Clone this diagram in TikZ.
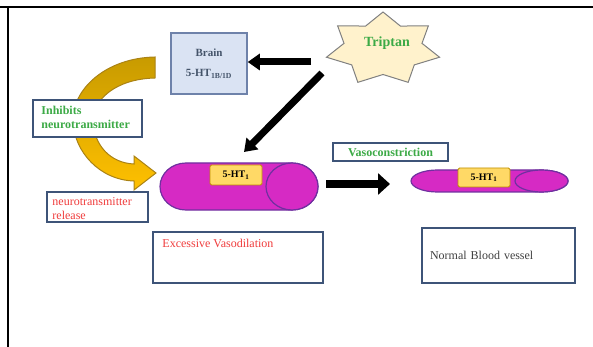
\documentclass[tikz,border=0pt]{standalone}
\usepackage{fontspec}
\setmainfont{Liberation Serif}
\usepackage{tikz}
\usetikzlibrary{positioning,arrows.meta,calc}

\definecolor{boxrim}{RGB}{62,84,120}
\definecolor{brainfill}{RGB}{218,227,243}
\definecolor{brainrim}{RGB}{110,130,170}
\definecolor{braintext}{RGB}{68,84,106}
\definecolor{textgreen}{RGB}{60,170,70}
\definecolor{textred}{RGB}{240,60,60}
\definecolor{starfill}{RGB}{255,242,204}
\definecolor{vesselpink}{RGB}{214,42,196}
\definecolor{vesselrim}{RGB}{112,48,160}
\definecolor{tagyellow}{RGB}{255,217,102}
\definecolor{tagrim}{RGB}{191,144,0}
\definecolor{golddark}{RGB}{200,155,0}
\definecolor{goldlight}{RGB}{255,192,0}
\definecolor{goldrim}{RGB}{170,130,20}

\tikzset{
    box/.style={rectangle, draw=boxrim, line width=1.5pt, fill=white, inner sep=0pt},
    tag/.style={rectangle, draw=tagrim, fill=tagyellow, rounded corners=1.5pt, line width=0.8pt,
        minimum width=52pt, font=\bfseries\fontsize{10}{12}\selectfont},
    vessel/.style={fill=vesselpink, draw=vesselrim, line width=1.2pt},
    line/.style={line width=7pt, -{Triangle[length=12pt,width=16pt]}},
    wideline/.style={line width=8pt, -{Triangle[length=12pt,width=21pt]}},
    label/.style={font=\fontsize{12}{14}\selectfont, align=left, inner sep=0pt},
}

\begin{document}
\begin{tikzpicture}[x=1pt,y=-1pt]
    \useasboundingbox (0,0) rectangle (593,347);

    % page frame
    \draw[line width=2.5pt] (0,7) -- (593,7);
    \draw[line width=2.5pt] (8,7) -- (8,347);

    % curved feedback arrow
    \shade[top color=golddark, bottom color=goldlight, draw=goldrim, line width=1pt]
        (155,57) .. controls (105,58) and (72,90) .. (73,121)
        .. controls (74,152) and (100,180) .. (134,181)
        -- (134,190) -- (156,173) -- (134,156) -- (134,164)
        .. controls (110,163) and (94,145) .. (93,121)
        .. controls (93,100) and (115,79) .. (155,78) -- cycle;

    \node[box, minimum width=109pt, minimum height=37pt] (inhibit) at (87.5,118.5) {};
    \node[label, font=\bfseries\fontsize{12}{14}\selectfont, text=textgreen,
        anchor=west] (inhibittxt) at ($(inhibit.west)+(9,-1)$) {Inhibits\\neurotransmitter};

    \node[box, minimum width=101pt, minimum height=30pt] (release) at (97.5,207) {};
    \node[label, text=textred, anchor=west] (releasetxt) at ($(release.west)+(6,2)$)
        {neurotransmitter\\release};

    % receptor in the brain
    \node[box, draw=brainrim, fill=brainfill, minimum width=76pt, minimum height=61pt,
        align=center, text=braintext, font=\bfseries\fontsize{11}{13}\selectfont]
        (brain) at (209,63.5) {Brain\\[7pt]5-HT\textsubscript{1B/1D}};

    % triptan star
    \draw[fill=starfill, draw=gray, line width=1pt]
        plot[samples at={0,...,13}, variable=\k]
        ({383+(mod(\k,2)==0 ? 58 : 40)*cos(90+\k*360/14)},
         {49-(mod(\k,2)==0 ? 37 : 25.5)*sin(90+\k*360/14)}) -- cycle;
    \node[font=\bfseries\fontsize{14}{16}\selectfont, text=textgreen] (triptan) at (387,43) {Triptan};

    % dilated vessel
    \path[vessel] (186,163) -- (292,163) arc[start angle=-90, end angle=90, x radius=26, y radius=23.5]
        -- (186,210) arc[start angle=90, end angle=270, x radius=26, y radius=23.5] -- cycle;
    \draw[vessel] (292,186.5) ellipse[x radius=26, y radius=23.5];
    \node[tag, minimum height=20pt] (bigtag) at (236,175) {5-HT\textsubscript{1}};
    \coordinate (bigend) at (318,184);

    % constricted vessel
    \path[vessel] (437.5,170) -- (541.5,170) arc[start angle=-90, end angle=90, x radius=26.5, y radius=11]
        -- (437.5,192) arc[start angle=90, end angle=270, x radius=26.5, y radius=11] -- cycle;
    \draw[vessel] (541.5,181) ellipse[x radius=26.5, y radius=11];
    \node[tag, minimum height=19pt] (smalltag) at (484,177.5) {5-HT\textsubscript{1}};
    \coordinate (smallend) at (411,184);

    \node[box, minimum width=115pt, minimum height=18pt, font=\bfseries\fontsize{12}{14}\selectfont,
        text=textgreen] (vasocon) at (390.5,152) {Vasoconstriction};

    \node[box, minimum width=170pt, minimum height=51pt] (excess) at (238,257.5) {};
    \node[label, text=textred, below right=8pt and 10pt of excess.north west, anchor=north west]
        (excesstxt) {Excessive Vasodilation};

    \node[box, minimum width=153pt, minimum height=55pt, text width=137pt, align=left,
        font=\fontsize{12}{14}\selectfont, text=black!75] (normal) at (498.5,255.5) {Normal Blood vessel};

    % drug actions
    \coordinate (toBrain) at (311,62);
    \coordinate (toVessel) at (322,73);
    \coordinate (vesselHit) at (244,152);
    \draw[line] (toBrain) -- (brain.east |- toBrain);
    \draw[line] (toVessel) -- (vesselHit);
    \draw[wideline, shorten <=8pt, shorten >=21pt] (bigend) -- (smallend);

\end{tikzpicture}
\end{document}
